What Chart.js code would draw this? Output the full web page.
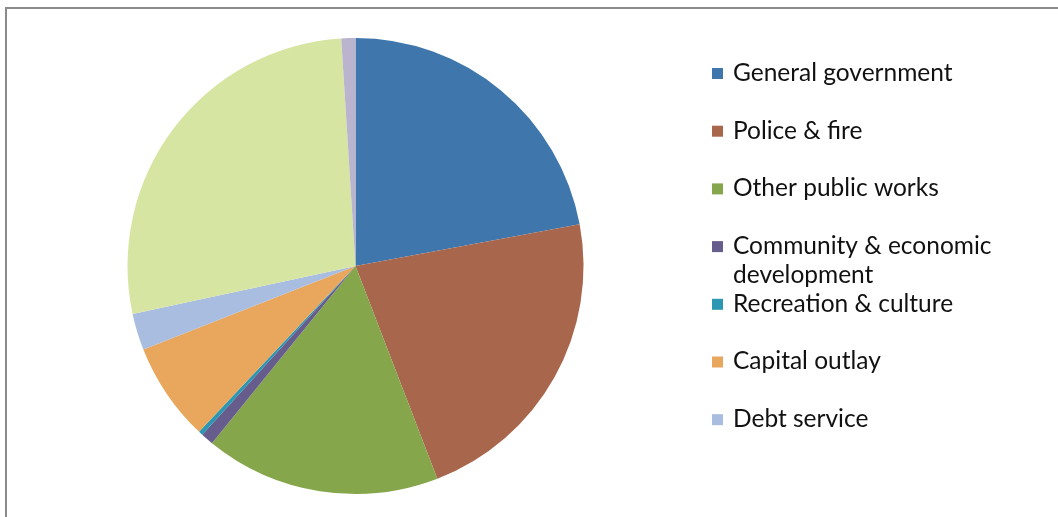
<!DOCTYPE html>
<html>
<head>
<meta charset="utf-8">
<script src="https://cdn.jsdelivr.net/npm/chart.js@4/dist/chart.umd.min.js"></script>
<style>
  html, body { margin: 0; padding: 0; background: #fff; }
  #wrap { width: 1058px; height: 517px; position: relative; }
</style>
</head>
<body>
<div id="wrap"><canvas id="pieChart" width="1058" height="517"></canvas></div>
<script>
// spending shares by program (percent of total)
const programs = [
    'General government', 'Police & fire', 'Other public works',
    'Community & economic development', 'Recreation & culture',
    'Capital outlay', 'Debt service', 'Transfers', 'Other'
];
const shares = [22.1, 22.1, 16.7, 0.9, 0.3, 7.0, 2.6, 27.4, 1.0];
const sliceColors = [
    '#3f77ad', '#a8664c', '#86a64b', '#675d8c', '#2b97b3',
    '#e8a75c', '#a9bde0', '#d6e5a1', '#bab4cf'
];
// only the first seven entries fit in the legend box
const legendLines = [
    ['General government'],
    ['Police & fire'],
    ['Other public works'],
    ['Community & economic', 'development'],
    ['Recreation & culture'],
    ['Capital outlay'],
    ['Debt service']
];

const frameAndLegend = {
    id: 'frameAndLegend',
    beforeDraw(chart) {
        const ctx = chart.ctx;
        ctx.save();
        ctx.fillStyle = '#fff';
        ctx.fillRect(0, 0, chart.width, chart.height);
        ctx.strokeStyle = '#8a8a8a';
        ctx.lineWidth = 2;
        ctx.strokeRect(6, 8, chart.width + 20, chart.height + 20);
        ctx.restore();
    },
    afterDraw(chart) {
        const ctx = chart.ctx;
        ctx.save();
        ctx.font = '24.5px Lato, "Liberation Sans", sans-serif';
        ctx.textBaseline = 'middle';
        legendLines.forEach((lines, i) => {
            const y = 73 + i * 57.7;
            ctx.fillStyle = sliceColors[i];
            ctx.fillRect(712, y - 5, 11, 11);
            ctx.fillStyle = '#111';
            lines.forEach((t, j) => ctx.fillText(t, 733, y + j * 29));
        });
        ctx.restore();
    }
};

new Chart(document.getElementById('pieChart'), {
    type: 'pie',
    data: {
        labels: programs,
        datasets: [{
            data: shares,
            backgroundColor: sliceColors,
            borderWidth: 0
        }]
    },
    options: {
        responsive: false,
        animation: false,
        layout: { padding: { left: 127, top: 38, right: 474, bottom: 23 } },
        plugins: {
            legend: { display: false },
            tooltip: { enabled: false }
        }
    },
    plugins: [frameAndLegend]
});
</script>
</body>
</html>
